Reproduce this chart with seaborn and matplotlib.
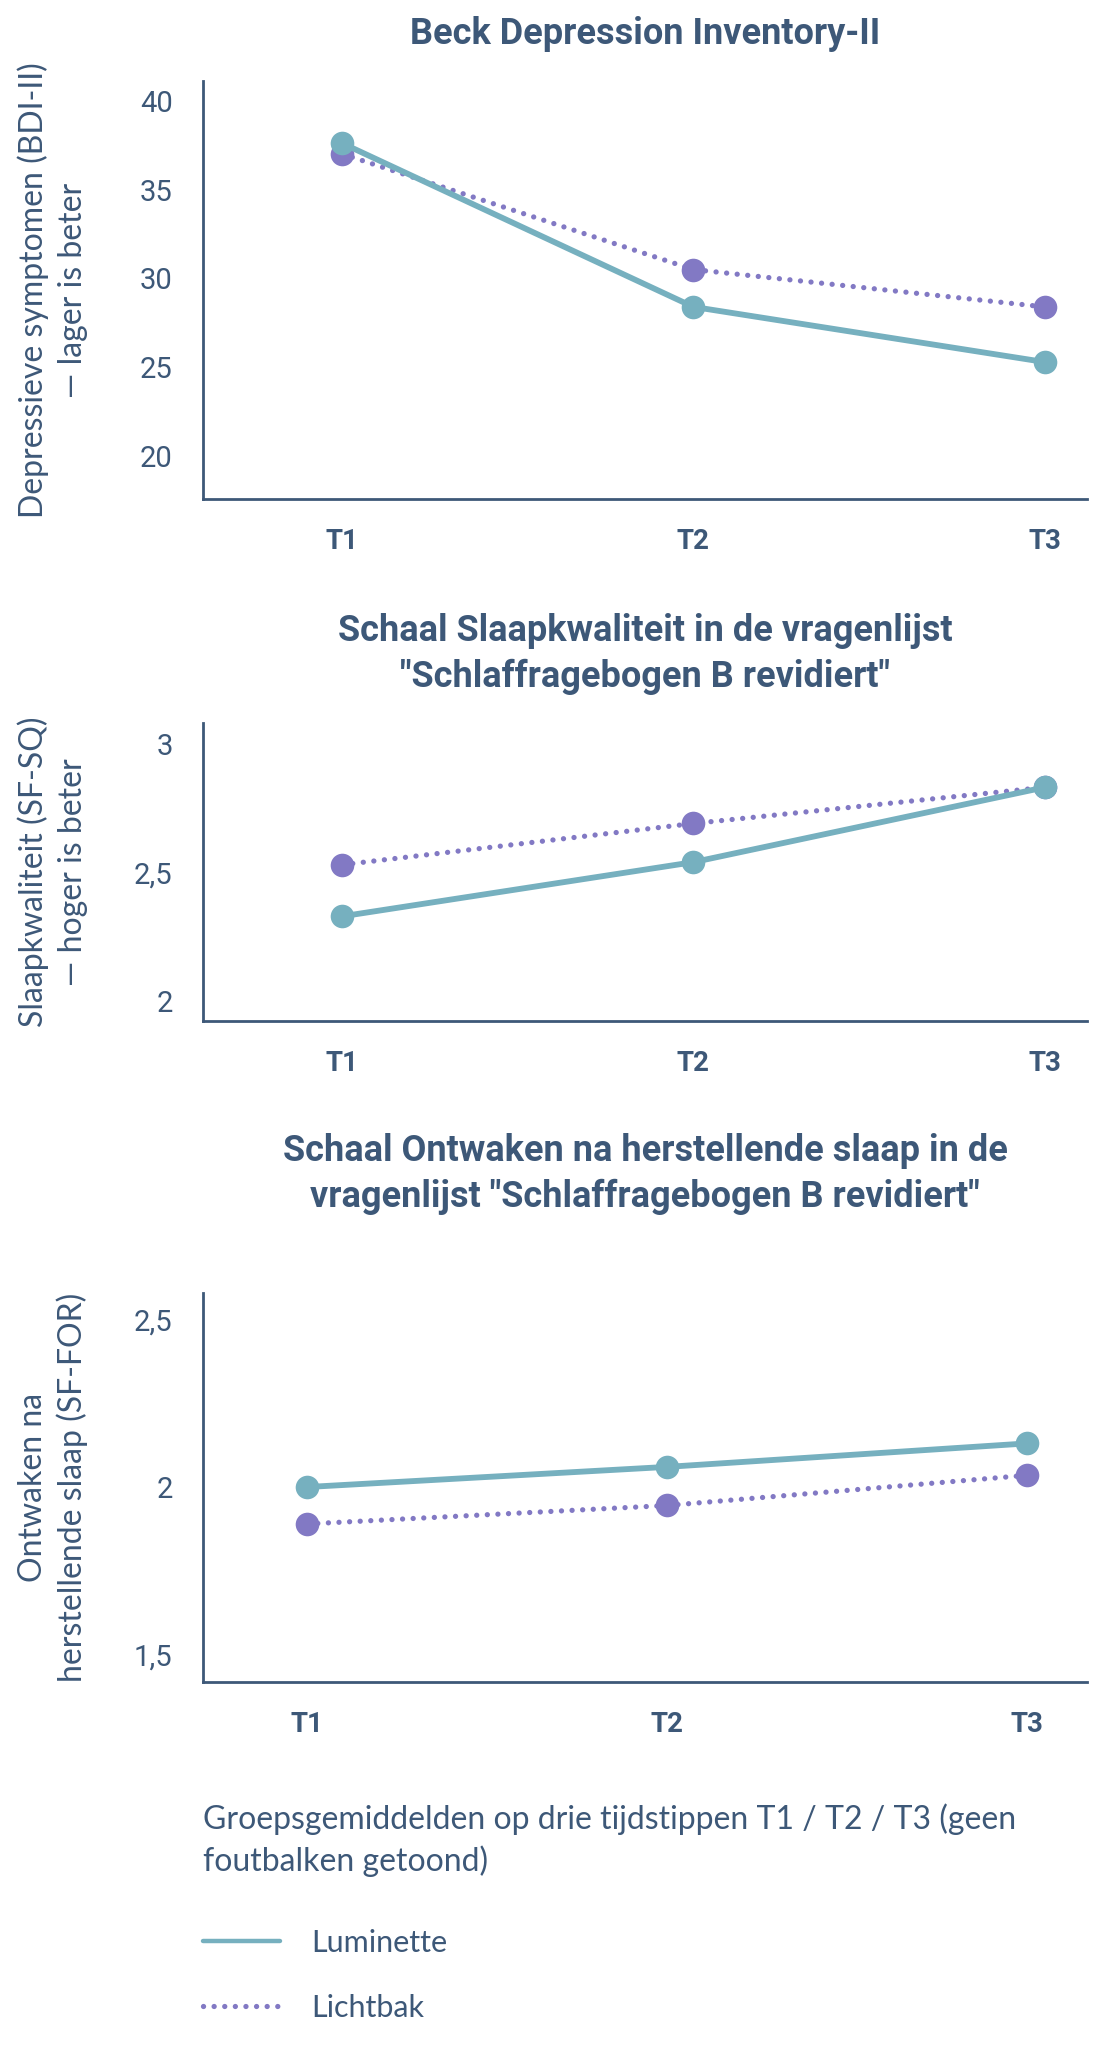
import numpy as np
import pandas as pd
import matplotlib
matplotlib.use("Agg")
import matplotlib.pyplot as plt
import seaborn as sns
from matplotlib.lines import Line2D

# Data
tijdstippen = ["T1", "T2", "T3"]
groepen = ["Lichtbak", "Luminette"]

bdi_luminette = [37.6, 28.4, 25.3]
bdi_lichtbak = [37.0, 30.5, 28.4]

sq_luminette = [2.33, 2.54, 2.83]
sq_lichtbak = [2.53, 2.69, 2.83]

for_luminette = [2.00, 2.06, 2.13]
for_lichtbak = [1.89, 1.945, 2.035]

bdi_ticks = [20, 25, 30, 35, 40]
bdi_ticklabels = ["20", "25", "30", "35", "40"]
sq_ticks = [2, 2.5, 3]
sq_ticklabels = ["2", "2,5", "3"]
for_ticks = [1.5, 2, 2.5]
for_ticklabels = ["1,5", "2", "2,5"]

titels = [
    "Beck Depression Inventory-II",
    "Schaal Slaapkwaliteit in de vragenlijst\n\"Schlaffragebogen B revidiert\"",
    "Schaal Ontwaken na herstellende slaap in de\nvragenlijst \"Schlaffragebogen B revidiert\"",
]
ylabels = [
    "Depressieve symptomen (BDI-II)\n\u2014 lager is beter",
    "Slaapkwaliteit (SF-SQ)\n\u2014 hoger is beter",
    "Ontwaken na\nherstellende slaap (SF-FOR)",
]
voetnoot = "Groepsgemiddelden op drie tijdstippen T1 / T2 / T3 (geen\nfoutbalken getoond)"

# Style
sns.set_style("white")
TEAL = "#76B0BF"
PURPLE = "#8279C4"
INK = "#3D5878"
plt.rcParams["font.family"] = ["Lato", "DejaVu Sans"]
plt.rcParams["lines.dash_capstyle"] = "round"
TITLE_FONT = ["Roboto", "DejaVu Sans"]

palette = {"Luminette": TEAL, "Lichtbak": PURPLE}
DOTS = (0.01, 2.0)
dashes = {"Luminette": "", "Lichtbak": DOTS}
linewidths = {"Luminette": 4.2, "Lichtbak": 3.8}


def make_df(lum, licht):
    rows = []
    for g, vals in (("Lichtbak", licht), ("Luminette", lum)):
        for i, v in enumerate(vals):
            rows.append({"t": i, "groep": g, "waarde": v})
    return pd.DataFrame(rows)


fig = plt.figure(figsize=(11.04, 20.56), dpi=100)

panels = [
    dict(rect=[0.184, 0.7573, 0.801, 0.2033], lum=bdi_luminette, licht=bdi_lichtbak,
         ylim=(17.6, 41.1), xlim=(-0.396, 2.122), ticks=bdi_ticks, tl=bdi_ticklabels, pad=27),
    dict(rect=[0.184, 0.5034, 0.801, 0.1450], lum=sq_luminette, licht=sq_lichtbak,
         ylim=(1.924, 3.08), xlim=(-0.396, 2.122), ticks=sq_ticks, tl=sq_ticklabels, pad=26),
    dict(rect=[0.184, 0.1819, 0.801, 0.1892], lum=for_luminette, licht=for_lichtbak,
         ylim=(1.419, 2.578), xlim=(-0.289, 2.167), ticks=for_ticks, tl=for_ticklabels, pad=62),
]

for k, p in enumerate(panels):
    ax = fig.add_axes(p["rect"])
    df = make_df(p["lum"], p["licht"])
    for g in groepen:
        sub = df[df["groep"] == g]
        sns.lineplot(data=sub, x="t", y="waarde", ax=ax, color=palette[g],
                     linewidth=linewidths[g], marker="o", markersize=17,
                     markeredgewidth=0, dashes=False, legend=False,
                     linestyle=(0, dashes[g]) if dashes[g] else "-")
    ax.set_xlim(*p["xlim"])
    ax.set_ylim(*p["ylim"])
    ax.set_xticks(range(len(tijdstippen)))
    ax.set_xticklabels(tijdstippen, fontsize=20, fontweight="bold", color=INK,
                       family=TITLE_FONT)
    ax.set_yticks(p["ticks"])
    ax.set_yticklabels(p["tl"], fontsize=21, color=INK, family=TITLE_FONT)
    ax.tick_params(axis="x", length=0, pad=21)
    ax.tick_params(axis="y", length=0, pad=22)
    ax.set_xlabel("")
    ax.set_ylabel("")
    for s in ["top", "right"]:
        ax.spines[s].set_visible(False)
    for s in ["left", "bottom"]:
        ax.spines[s].set_color(INK)
        ax.spines[s].set_linewidth(2)
    ax.set_title(titels[k], fontsize=26, fontweight="bold", color=INK,
                 family=TITLE_FONT, pad=p["pad"], linespacing=1.35)
    ax.text(-0.17, 0.5, ylabels[k], transform=ax.transAxes, rotation=90,
            ha="center", va="center", multialignment="center",
            fontsize=23, color=INK, linespacing=1.35)

# Voetnoot
fig.text(0.184, 0.090, voetnoot, ha="left", va="baseline", fontsize=23,
         color=INK, linespacing=1.4)

# Legenda
handles = [
    Line2D([], [], color=TEAL, linewidth=3.2),
    Line2D([], [], color=PURPLE, linewidth=3.8, linestyle=(0, DOTS)),
]
fig.legend(handles, ["Luminette", "Lichtbak"], loc="upper left",
           bbox_to_anchor=(0.184, 0.062), frameon=False, fontsize=22,
           borderpad=0, borderaxespad=0,
           handlelength=2.5, handletextpad=1.05, labelspacing=1.21,
           labelcolor=INK)

fig.savefig("out.png", dpi=100)
